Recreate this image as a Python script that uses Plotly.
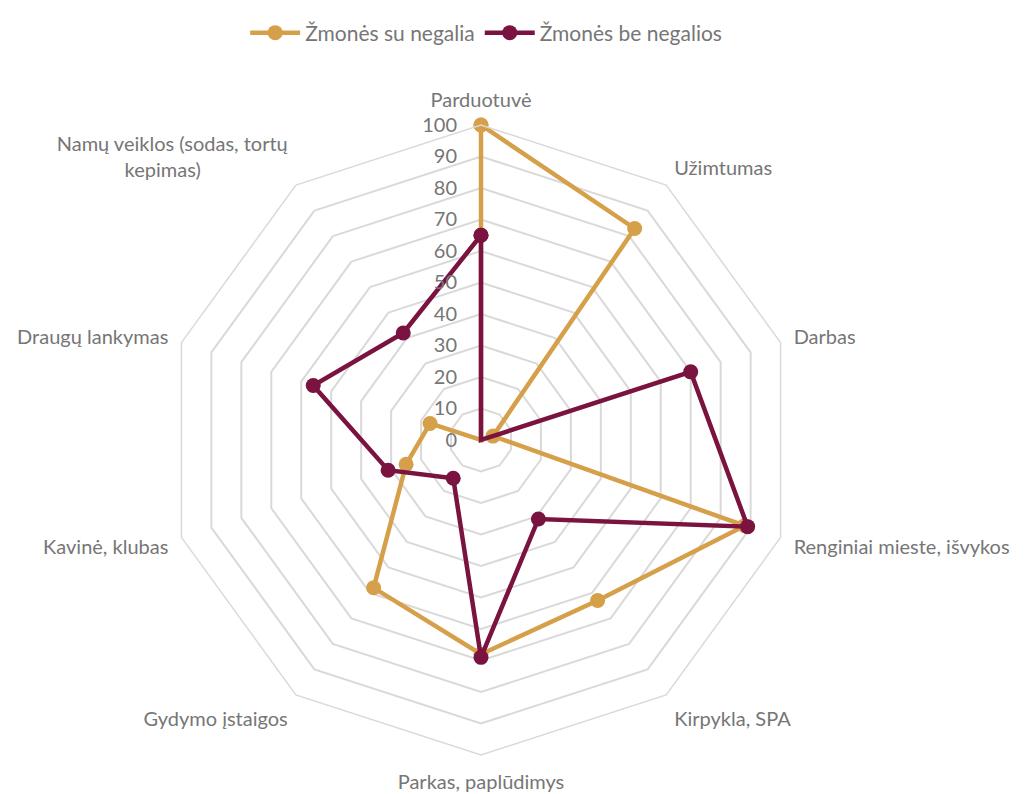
import plotly.graph_objects as go

pad = "&nbsp;" * 17
categories = ["Parduotuvė", "Užimtumas", "Darbas", "Renginiai mieste, išvykos",
              "Kirpykla, SPA", "Parkas, paplūdimys", "Gydymo įstaigos",
              "Kavinė, klubas", "Draugų lankymas", "Namų veiklos (sodas, tortų<br>kepimas)" + pad]
su_negalia = [100, 83, 4, 88, 63, 68, 58, 25, 17, 0]
be_negalios = [65, 0, 70, 89, 31, 69, 15, 31, 56, 42]
series_names = ["Žmonės su negalia", "Žmonės be negalios"]
colors = ["#D6A04B", "#7A1340"]

W, H = 1035, 794
cx, cy, R = 473, 432, 315

fig = go.Figure()
for name, vals, col in zip(series_names, [su_negalia, be_negalios], colors):
    fig.add_trace(go.Scatterpolar(
        r=vals + vals[:1], theta=categories + categories[:1],
        mode="lines+markers", name=name,
        line=dict(color=col, width=4.5),
        marker=dict(color=col, size=15),
    ))

font_fam = "Source Sans Pro, Lato, Noto Sans, sans-serif"
fig.update_layout(
    width=W, height=H,
    margin=dict(l=0, r=0, t=0, b=0, autoexpand=False),
    paper_bgcolor="white",
    font=dict(family=font_fam, size=20, color="#767676"),
    showlegend=True,
    legend=dict(orientation="h", x=0.462, xanchor="center", y=1 - 25 / H, yanchor="middle",
                font=dict(size=21, color="#767676"), itemwidth=50,
                tracegroupgap=0),
    polar=dict(
        domain=dict(x=[(cx - R) / W, (cx + R) / W],
                    y=[(H - cy - R) / H, (H - cy + R) / H]),
        bgcolor="white",
        gridshape="linear",
        angularaxis=dict(rotation=90, direction="clockwise",
                         showgrid=False, showline=True, linecolor="#D9D9D9", linewidth=1.5,
                         ticks="outside", ticklen=9, tickcolor="rgba(0,0,0,0)",
                         tickfont=dict(size=20, color="#767676")),
        radialaxis=dict(range=[0, 100], dtick=10, angle=90, tickangle=90,
                        showline=False, gridcolor="#D9D9D9", gridwidth=1.5,
                        ticks="", side="counterclockwise",
                        ticksuffix="&nbsp;&nbsp;&nbsp;&nbsp;",
                        tickfont=dict(size=20, color="#767676")),
    ),
)
fig.write_html("out.html")
